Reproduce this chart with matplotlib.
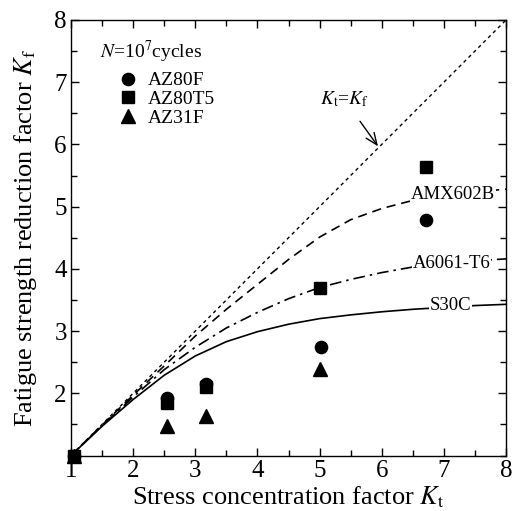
import matplotlib
matplotlib.use('Agg')
import matplotlib.pyplot as plt
from matplotlib.ticker import MultipleLocator

plt.rcParams['font.family'] = ['Liberation Serif', 'DejaVu Serif']
plt.rcParams['mathtext.fontset'] = 'stix'

# measured fatigue data (Kt, Kf)
az80f_kt = [1.05, 2.55, 3.18, 5.02, 6.72]
az80f_kf = [1.0, 1.92, 2.15, 2.74, 4.78]
az80t5_kt = [1.05, 2.55, 3.18, 5.0, 6.72]
az80t5_kf = [1.0, 1.85, 2.10, 3.69, 5.63]
az31f_kt = [1.05, 2.55, 3.18, 5.0]
az31f_kf = [1.0, 1.48, 1.63, 2.39]

# reference curves
curve_kt = [1.0, 1.5, 2.0, 2.5, 3.0, 3.5, 4.0, 4.5, 5.0, 5.5, 6.0, 6.5, 7.0, 7.5, 8.0]
s30c_kf = [1.0, 1.47, 1.90, 2.29, 2.60, 2.83, 2.99, 3.11, 3.20, 3.26, 3.31, 3.35, 3.38, 3.41, 3.43]
a6061_kf = [1.0, 1.48, 1.94, 2.38, 2.74, 3.05, 3.30, 3.52, 3.70, 3.83, 3.94, 4.03, 4.09, 4.13, 4.16]
amx602b_kf = [1.0, 1.49, 1.97, 2.44, 2.92, 3.35, 3.75, 4.15, 4.51, 4.79, 4.97, 5.10, 5.18, 5.24, 5.28]
diag = [1.0, 8.0]

fig = plt.figure(figsize=(5.12, 5.11), dpi=100)
ax = fig.add_axes([0.1387, 0.1086, 0.8496, 0.8523])

ax.plot(diag, diag, color='k', lw=1.0, ls=(0, (2.5, 2.5)))
ax.plot(curve_kt, amx602b_kf, color='k', lw=1.2, ls=(0, (5.5, 3.5)))
ax.plot(curve_kt, a6061_kf, color='k', lw=1.2, ls=(0, (7, 3, 1.5, 3)))
ax.plot(curve_kt, s30c_kf, color='k', lw=1.2, ls='-')

ax.plot(az80f_kt, az80f_kf, 'ko', ms=8.8, ls='none', clip_on=False, zorder=5, label='AZ80F')
ax.plot(az80t5_kt, az80t5_kf, 'ks', ms=8.6, ls='none', clip_on=False, zorder=5, label='AZ80T5')
ax.plot(az31f_kt, az31f_kf, 'k^', ms=10, ls='none', clip_on=False, zorder=5, label='AZ31F')

lbl = dict(fontsize=13.5, ha='center', va='center', zorder=4,
           bbox=dict(facecolor='white', edgecolor='none', pad=0.5))
ax.text(7.15, 5.19, 'AMX602B', **lbl)
ax.text(7.12, 4.09, 'A6061-T6', **lbl)
ax.text(7.10, 3.41, 'S30C', **lbl)

ax.annotate(r'$K_\mathrm{t}$=$K_\mathrm{f}$', xy=(5.94, 5.97), xytext=(5.4, 6.72),
            fontsize=14, ha='center', va='center',
            arrowprops=dict(arrowstyle='->,head_length=0.6,head_width=0.25',
                            color='k', lw=1.0, shrinkA=8, shrinkB=0))

ax.text(0.067, 0.927, r'$N$=10$^7$cycles', transform=ax.transAxes,
        fontsize=14, ha='left', va='center')
ax.legend(loc='upper left', bbox_to_anchor=(0.091, 0.899), frameon=False,
          fontsize=14, handletextpad=0.5, labelspacing=0.05, borderaxespad=0.0,
          handlelength=1.0, borderpad=0.4)

ax.set_xlim(1, 8)
ax.set_ylim(1, 8)
ax.xaxis.set_major_locator(MultipleLocator(1))
ax.xaxis.set_minor_locator(MultipleLocator(0.5))
ax.set_yticks([2, 3, 4, 5, 6, 7, 8])
ax.yaxis.set_minor_locator(MultipleLocator(0.5))
ax.tick_params(which='both', direction='in', top=True, right=True, labelsize=18, width=1.0)
ax.tick_params(which='major', length=6, pad=3)
ax.tick_params(which='minor', length=4)
for s in ax.spines.values():
    s.set_linewidth(1.0)

ax.set_xlabel(r'Stress concentration factor $K_\mathrm{t}$', fontsize=19, labelpad=2)
ax.set_ylabel(r'Fatigue strength reduction factor $K_\mathrm{f}$', fontsize=19, labelpad=11)

plt.savefig('out.png', dpi=100)
